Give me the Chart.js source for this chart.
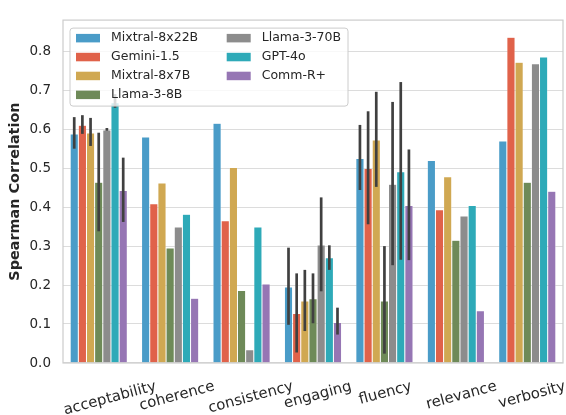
<!DOCTYPE html>
<html>
<head>
<meta charset="utf-8">
<script src="https://cdn.jsdelivr.net/npm/chart.js@4/dist/chart.umd.min.js"></script>
<style>
  html, body { margin: 0; padding: 0; background: #fff; }
  #wrap { width: 566px; height: 415px; }
</style>
</head>
<body>
<div id="wrap"><canvas id="chart" width="566" height="415"></canvas></div>
<script>
const categories = ['acceptability', 'coherence', 'consistency', 'engaging', 'fluency', 'relevance', 'verbosity'];
const models = ['Mixtral-8x22B', 'Gemini-1.5', 'Mixtral-8x7B', 'Llama-3-8B', 'Llama-3-70B', 'GPT-4o', 'Comm-R+'];
const yTickValues = [0, 0.1, 0.2, 0.3, 0.4, 0.5, 0.6, 0.7, 0.8];

// mean Spearman correlation per category
const mixtral22 = [0.588, 0.580, 0.615, 0.195, 0.525, 0.520, 0.570];
const gemini    = [0.610, 0.409, 0.365, 0.127, 0.499, 0.393, 0.836];
const mixtral7  = [0.590, 0.462, 0.502, 0.159, 0.572, 0.478, 0.772];
const llama8    = [0.464, 0.295, 0.186, 0.165, 0.159, 0.315, 0.464];
const llama70   = [0.598, 0.349, 0.034, 0.303, 0.459, 0.377, 0.768];
const gpt4o     = [0.668, 0.382, 0.349, 0.270, 0.491, 0.404, 0.785];
const commR     = [0.443, 0.166, 0.203, 0.104, 0.404, 0.134, 0.441];

// error bar ends (null = no error bar)
const mixtral22Lo = [0.550, null, null, 0.098, 0.444, null, null];
const mixtral22Hi = [0.631, null, null, 0.296, 0.611, null, null];
const geminiLo    = [0.588, null, null, 0.027, 0.356, null, null];
const geminiHi    = [0.636, null, null, 0.230, 0.646, null, null];
const mixtral7Lo  = [0.557, null, null, 0.082, 0.452, null, null];
const mixtral7Hi  = [0.629, null, null, 0.239, 0.696, null, null];
const llama8Lo    = [0.338, null, null, 0.102, 0.024, null, null];
const llama8Hi    = [0.591, null, null, 0.230, 0.300, null, null];
const llama70Lo   = [0.596, null, null, 0.184, 0.251, null, null];
const llama70Hi   = [0.603, null, null, 0.425, 0.670, null, null];
const gpt4oLo     = [0.655, null, null, 0.239, 0.265, null, null];
const gpt4oHi     = [0.690, null, null, 0.302, 0.721, null, null];
const commRLo     = [0.362, null, null, 0.073, 0.264, null, null];
const commRHi     = [0.527, null, null, 0.142, 0.548, null, null];

const seriesValues = [mixtral22, gemini, mixtral7, llama8, llama70, gpt4o, commR];
const seriesLo = [mixtral22Lo, geminiLo, mixtral7Lo, llama8Lo, llama70Lo, gpt4oLo, commRLo];
const seriesHi = [mixtral22Hi, geminiHi, mixtral7Hi, llama8Hi, llama70Hi, gpt4oHi, commRHi];
const colors = ['#4a9cc8', '#e0624a', '#d0a852', '#6e8a58', '#8c8c8c', '#2eaab8', '#9676b4'];

const FONT = 'DejaVu Sans';
const TEXT = '#262626';

// plot frame (seaborn whitegrid spines)
const framePlugin = {
  id: 'frame',
  afterDatasetsDraw(chart) {
    const { ctx, chartArea: a } = chart;
    ctx.save();
    ctx.strokeStyle = '#cccccc';
    ctx.lineWidth = 1.2;
    ctx.strokeRect(a.left, a.top, a.right - a.left, a.bottom - a.top);
    ctx.restore();
  }
};

// vertical confidence bars drawn from the y scale
const errorBarPlugin = {
  id: 'errorBars',
  afterDatasetsDraw(chart) {
    const { ctx } = chart;
    const y = chart.scales.y;
    ctx.save();
    ctx.strokeStyle = '#404040';
    ctx.lineWidth = 2.7;
    chart.data.datasets.forEach((ds, di) => {
      const meta = chart.getDatasetMeta(di);
      meta.data.forEach((bar, i) => {
        const lo = seriesLo[di][i], hi = seriesHi[di][i];
        if (lo == null || hi == null) return;
        ctx.beginPath();
        ctx.moveTo(bar.x, y.getPixelForValue(lo));
        ctx.lineTo(bar.x, y.getPixelForValue(hi));
        ctx.stroke();
      });
    });
    ctx.restore();
  }
};

// rotated x labels centred under each group
const xLabelPlugin = {
  id: 'xLabels',
  afterDraw(chart) {
    const { ctx, chartArea: a } = chart;
    const x = chart.scales.x;
    const ang = 15 * Math.PI / 180;
    ctx.save();
    ctx.font = `14.8px "${FONT}"`;
    ctx.fillStyle = TEXT;
    ctx.textAlign = 'center';
    ctx.textBaseline = 'middle';
    categories.forEach((c, i) => {
      const w = ctx.measureText(c).width;
      const bh = w * Math.sin(ang) + 15 * Math.cos(ang);
      const cx = x.getPixelForTick(i) + Math.max(0, (w - 50) * 0.25);
      const cy = a.bottom + 16 + bh / 2;
      ctx.save();
      ctx.translate(cx, cy);
      ctx.rotate(-ang);
      ctx.fillText(c, 0, 0);
      ctx.restore();
    });
    ctx.restore();
  }
};

// two-column legend in the upper left, like matplotlib ncol=2
const legendPlugin = {
  id: 'colLegend',
  afterDraw(chart) {
    const { ctx, chartArea: a } = chart;
    const left = a.left + 7, top = a.top + 8, w = 278, h = 78;
    ctx.save();
    ctx.beginPath();
    ctx.roundRect(left, top, w, h, 3);
    ctx.fillStyle = 'rgba(255,255,255,0.8)';
    ctx.fill();
    ctx.strokeStyle = '#cccccc';
    ctx.lineWidth = 1;
    ctx.stroke();
    ctx.font = `12.5px "${FONT}"`;
    ctx.textBaseline = 'middle';
    models.forEach((m, i) => {
      const col = Math.floor(i / 4), row = i % 4;
      const sx = left + 6 + col * 150.7;
      const sy = top + 10 + row * 18.9;
      ctx.fillStyle = colors[i];
      ctx.fillRect(sx, sy - 4.2, 24, 8.5);
      ctx.fillStyle = TEXT;
      ctx.fillText(m, sx + 35, sy);
    });
    ctx.restore();
  }
};

new Chart(document.getElementById('chart'), {
  type: 'bar',
  data: {
    labels: categories,
    datasets: models.map((m, i) => ({
      label: m,
      data: seriesValues[i],
      backgroundColor: colors[i],
      borderColor: 'rgba(255,255,255,0.6)',
      borderWidth: { left: 0.5, right: 0.5, top: 0.5, bottom: 0 },
      categoryPercentage: 0.8,
      barPercentage: 1.0
    }))
  },
  options: {
    responsive: false,
    animation: false,
    layout: { padding: { top: 7, right: 3, left: 0, bottom: 0 } },
    plugins: {
      legend: { display: false },
      tooltip: { enabled: false }
    },
    scales: {
      x: {
        grid: { display: false, drawTicks: false },
        border: { display: false },
        ticks: { display: false },
        afterFit(scale) { scale.height = 52; }
      },
      y: {
        min: 0,
        max: 0.88,
        grid: { color: '#dcdcdc', lineWidth: 1.1, drawTicks: false },
        border: { display: false },
        afterBuildTicks(scale) { scale.ticks = yTickValues.map(v => ({ value: v })); },
        afterFit(scale) { scale.width = 63; },
        ticks: {
          padding: 12,
          color: TEXT,
          font: { family: FONT, size: 13.5 },
          callback: v => Number(v).toFixed(1)
        },
        title: {
          display: true,
          text: 'Spearman Correlation',
          color: TEXT,
          padding: { top: 7, bottom: 0 },
          font: { family: FONT, size: 14.4, weight: 'bold' }
        }
      }
    }
  },
  plugins: [framePlugin, errorBarPlugin, xLabelPlugin, legendPlugin]
});
</script>
</body>
</html>
